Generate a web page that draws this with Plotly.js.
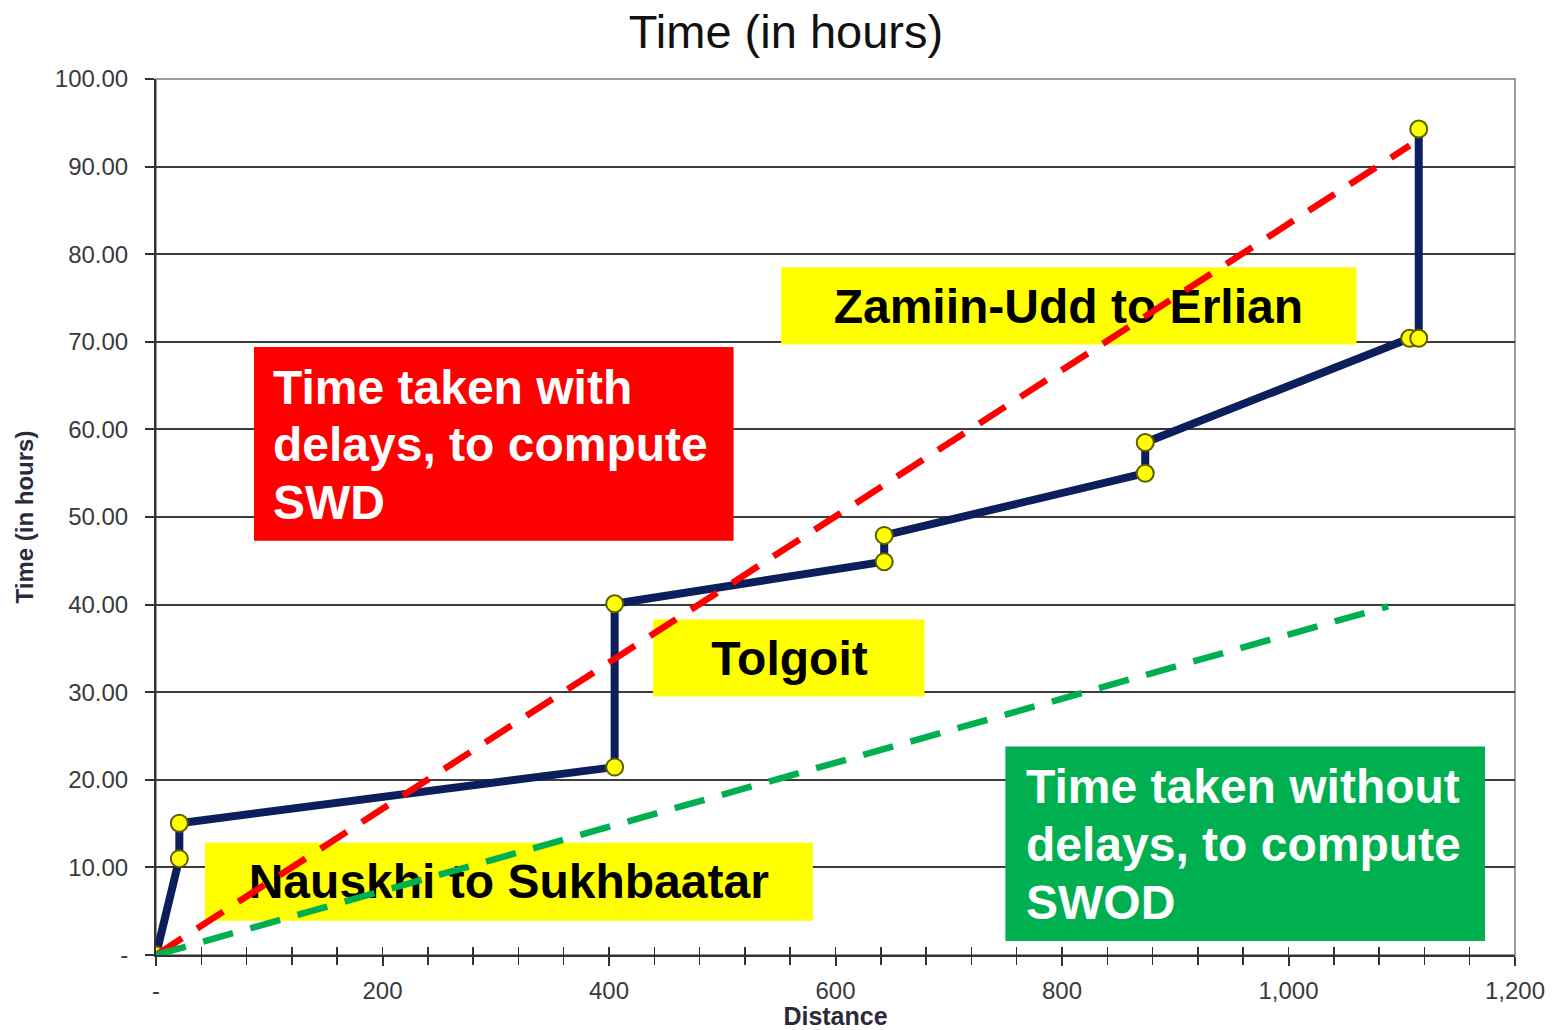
<!DOCTYPE html>
<html>
<head>
<meta charset="utf-8">
<script src="https://cdn.plot.ly/plotly-3.0.1.min.js"></script>
<style>html,body{margin:0;padding:0;background:#fff;}#chart{width:1558px;height:1030px;}</style>
</head>
<body>
<div id="chart"></div>
<script>
// ---- data ----
const distance = [0, 20.6, 20.6, 405, 405, 643, 643, 873.5, 873.5, 1107, 1115, 1115];
const timeHours = [0, 11.0, 15.05, 21.45, 40.1, 44.9, 47.9, 55.0, 58.5, 70.4, 70.4, 94.3];
const swdDistance = [0, 1107];
const swdTime = [0, 92.4];
const swodDistance = [0, 1088];
const swodTime = [0, 39.8];
const xTickVals = [0, 200, 400, 600, 800, 1000, 1200];
const xTickText = ['-', '200', '400', '600', '800', '1,000', '1,200'];
const yTickVals = [0, 10, 20, 30, 40, 50, 60, 70, 80, 90, 100];
const yTickText = ['-', '10.00', '20.00', '30.00', '40.00', '50.00', '60.00', '70.00', '80.00', '90.00', '100.00'];
const sectionLabels = ['Zamiin-Udd to Erlian', 'Tolgoit', 'Nauskhi to Sukhbaatar'];
const swdNoteLines = ['Time taken with', 'delays, to compute', 'SWD'];
const swodNoteLines = ['Time taken without', 'delays, to compute', 'SWOD'];

const FONT = '"Liberation Sans", Arial, Helvetica, sans-serif';

// label placement (layout only)
const labelX = [805.6, 559.4, 311.5];
const labelY = [73.55, 33.3, 7.85];
const swdLineY = [64.84, 58.22, 51.71];
const swodLineY = [19.18, 12.56, 5.94];

const traces = [
  {
    x: labelX, y: labelY, text: sectionLabels, mode: 'text', type: 'scatter',
    textposition: 'middle center', hoverinfo: 'skip', showlegend: false,
    textfont: {family: FONT, size: 48, color: '#000000', weight: 'bold'}
  },
  {
    x: distance, y: timeHours, type: 'scatter', mode: 'lines+markers', showlegend: false,
    line: {color: '#0c1f5c', width: 8},
    marker: {size: 17, color: '#ffff00', line: {color: '#5e5e00', width: 2}}
  },
  {
    x: swdDistance, y: swdTime, type: 'scatter', mode: 'lines', showlegend: false,
    line: {color: '#ff0000', width: 6.5, dash: '31px,18px'}
  },
  {
    x: swodDistance, y: swodTime, type: 'scatter', mode: 'lines', showlegend: false,
    line: {color: '#00b050', width: 6.5, dash: '31px,18px'}
  },
  {
    x: [0], y: [0], xaxis: 'x2', type: 'scatter', mode: 'markers', showlegend: false,
    hoverinfo: 'skip', marker: {size: 1, opacity: 0}
  }
];

function box(x0, x1, y0, y1, color) {
  return {type: 'rect', xref: 'x', yref: 'y', x0: x0, x1: x1, y0: y0, y1: y1,
          fillcolor: color, line: {width: 0}, layer: 'between'};
}

function noteLines(lines, x, ys) {
  return lines.map((t, i) => ({
    xref: 'x', yref: 'y', x: x, y: ys[i], xanchor: 'left', yanchor: 'middle', align: 'left',
    text: t, showarrow: false, font: {family: FONT, size: 48, color: '#ffffff', weight: 'bold'}
  }));
}

const layout = {
  width: 1558, height: 1030,
  margin: {l: 156, r: 43, t: 79, b: 75},
  paper_bgcolor: '#ffffff', plot_bgcolor: '#ffffff',
  font: {family: FONT, color: '#333333'},
  showlegend: false,
  title: {
    text: 'Time (in hours)',
    font: {family: FONT, size: 47, color: '#111111'},
    x: 0.5045, xref: 'container', xanchor: 'center',
    y: 1 - 32 / 1030, yref: 'container', yanchor: 'middle'
  },
  xaxis: {
    range: [0, 1200], tickmode: 'array', tickvals: xTickVals, ticktext: xTickText,
    showgrid: false, zeroline: false, showline: true, linecolor: '#333333', linewidth: 2,
    ticks: 'outside', ticklen: 9, tickwidth: 2, tickcolor: '#333333',
    ticklabelstandoff: 4,
    tickfont: {family: FONT, size: 24, color: '#3a3a3a'},
    minor: {tickmode: 'linear', tick0: 0, dtick: 40, ticks: 'outside', ticklen: 8, tickwidth: 1.5, tickcolor: '#333333', showgrid: false},
    title: {text: 'Distance', font: {family: FONT, size: 25, color: '#2a2a3a', weight: 'bold'}, standoff: 0},
    automargin: false
  },
  xaxis2: {
    range: [0, 1200], overlaying: 'x', anchor: 'y', side: 'bottom',
    tickmode: 'linear', tick0: 0, dtick: 40, ticks: 'inside', ticklen: 8, tickwidth: 1.5, tickcolor: '#333333',
    showticklabels: false, showgrid: false, zeroline: false, showline: false
  },
  yaxis: {
    range: [0, 100], tickmode: 'array', tickvals: yTickVals, ticktext: yTickText,
    showgrid: true, gridcolor: '#3c3c3c', gridwidth: 2,
    zeroline: false, showline: true, linecolor: '#333333', linewidth: 2,
    ticks: 'outside', ticklen: 9, tickwidth: 2, tickcolor: '#333333',
    ticklabelstandoff: 12,
    tickfont: {family: FONT, size: 24, color: '#3a3a3a'},
    title: {text: 'Time (in hours)', font: {family: FONT, size: 24, color: '#2a2a3a', weight: 'bold'}, standoff: 14},
    automargin: false
  },
  shapes: [
    {type: 'rect', xref: 'paper', yref: 'paper', x0: 0, x1: 1, y0: 0, y1: 1,
     line: {color: '#9a9a9a', width: 2}, layer: 'below'},
    box(86.5, 510, 47.3, 69.4, '#ff0000'),
    box(552, 1060, 69.7, 78.5, '#ffff00'),
    box(439, 678.5, 29.5, 38.3, '#ffff00'),
    box(43.2, 580, 3.9, 12.8, '#ffff00'),
    box(750, 1173.5, 1.6, 23.8, '#00b050')
  ],
  annotations: noteLines(swdNoteLines, 101.5, swdLineY).concat(noteLines(swodNoteLines, 766, swodLineY))
};

Plotly.newPlot('chart', traces, layout, {displayModeBar: false, staticPlot: true});
</script>
</body>
</html>
